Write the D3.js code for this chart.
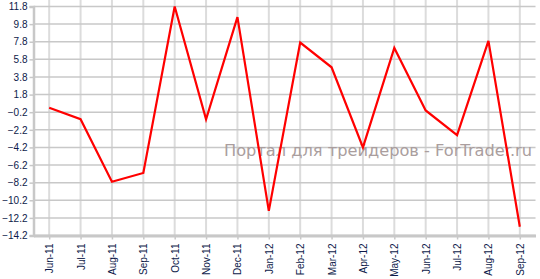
<!DOCTYPE html>
<html>
<head>
<meta charset="utf-8">
<script src="https://cdn.jsdelivr.net/npm/d3@7"></script>
<style>
  body { margin: 0; background: #fff; }
  #container { width: 540px; height: 279px; }
</style>
</head>
<body>
<div id="container"></div>
<script>
const months = ["Jun-11", "Jul-11", "Aug-11", "Sep-11", "Oct-11", "Nov-11", "Dec-11", "Jan-12",
  "Feb-12", "Mar-12", "Apr-12", "May-12", "Jun-12", "Jul-12", "Aug-12", "Sep-12"];
const values = [0.3, -1.0, -8.1, -7.1, 11.8, -1.0, 10.6, -11.4,
  7.7, 4.9, -4.2, 7.1, 0.0, -2.8, 7.9, -13.2];
const yTicks = [11.8, 9.8, 7.8, 5.8, 3.8, 1.8, -0.2, -2.2, -4.2, -6.2, -8.2, -10.2, -12.2, -14.2];
const watermark = "Портал для трейдеров - ForTrader.ru";

const width = 540, height = 279;
const plotLeft = 33.5, plotRight = 535.5, plotTop = 6.5, plotBottom = 235.5;

const svg = d3.select("#container")
  .append("svg")
  .attr("width", width)
  .attr("height", height)
  .style("font-family", "'DejaVu Sans', Verdana, sans-serif");

const x = d3.scalePoint()
  .domain(months)
  .range([plotLeft, plotRight])
  .padding(0.5);

const y = d3.scaleLinear()
  .domain([-14.2, 11.8])
  .range([plotBottom, plotTop]);

// vertical grid
svg.append("g")
  .selectAll("line")
  .data(months)
  .enter().append("line")
  .attr("x1", d => x(d)).attr("x2", d => x(d))
  .attr("y1", 0).attr("y2", plotBottom)
  .attr("stroke", "#dcdcdc")
  .attr("stroke-width", 2);

// horizontal grid
svg.append("g")
  .selectAll("line")
  .data(yTicks)
  .enter().append("line")
  .attr("x1", plotLeft).attr("x2", plotRight)
  .attr("y1", d => y(d)).attr("y2", d => y(d))
  .attr("stroke", "#c8c8c8")
  .attr("stroke-width", 1.5);

// watermark
svg.append("text")
  .attr("x", 224)
  .attr("y", 156)
  .attr("fill", "#aa9e9e")
  .attr("textLength", 308)
  .attr("lengthAdjust", "spacingAndGlyphs")
  .style("font-size", "16px")
  .text(watermark);

// y axis
const yAxis = svg.append("g")
  .attr("transform", `translate(${plotLeft},0)`)
  .call(d3.axisLeft(y).tickValues(yTicks).tickSize(4).tickPadding(2).tickFormat(d3.format(".1f")));
yAxis.select(".domain").attr("stroke", "#c8c8c8").attr("stroke-width", 2.5);
yAxis.selectAll(".tick line").attr("stroke", "#c8c8c8").attr("stroke-width", 1.5);
yAxis.selectAll("text").attr("fill", "#0d1a4a").style("font-size", "10px");

// x axis
const xAxis = svg.append("g")
  .attr("transform", `translate(0,${plotBottom})`)
  .call(d3.axisBottom(x).tickSize(4).tickSizeOuter(0));
xAxis.select(".domain").attr("stroke", "#c8c8c8").attr("stroke-width", 3);
xAxis.selectAll(".tick line").attr("stroke", "#c8c8c8").attr("stroke-width", 1.5);
xAxis.selectAll("text")
  .attr("fill", "#0d1a4a")
  .style("font-size", "10px")
  .attr("transform", "rotate(-90)")
  .attr("text-anchor", "end")
  .attr("x", -8)
  .attr("y", 0)
  .attr("dy", "0.35em");

// line
svg.append("path")
  .datum(values)
  .attr("fill", "none")
  .attr("stroke", "#ff0000")
  .attr("stroke-width", 2.2)
  .attr("stroke-linejoin", "miter")
  .attr("d", d3.line().x((d, i) => x(months[i])).y(d => y(d)));
</script>
</body>
</html>
